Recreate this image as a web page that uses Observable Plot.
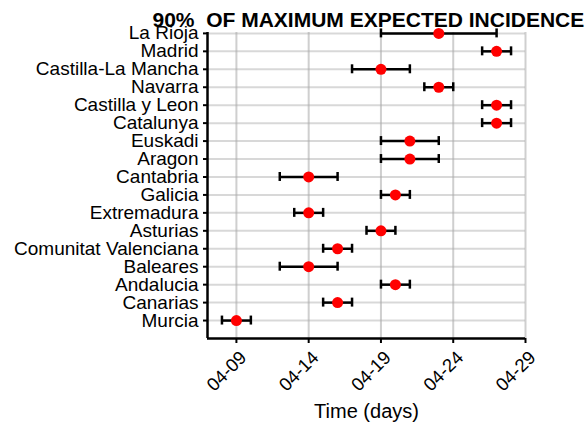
<!DOCTYPE html>
<html>
<head>
<meta charset="utf-8">
<script src="https://cdn.jsdelivr.net/npm/d3@7"></script>
<script src="https://cdn.jsdelivr.net/npm/@observablehq/plot@0.6"></script>
<style>
  html, body { margin: 0; padding: 0; background: #fff; }
  #chart svg { display: block; }
</style>
</head>
<body>
<div id="chart"></div>
<script>
// Regions, top to bottom
const regions = ["La Rioja", "Madrid", "Castilla-La Mancha", "Navarra", "Castilla y Leon", "Catalunya",
  "Euskadi", "Aragon", "Cantabria", "Galicia", "Extremadura", "Asturias",
  "Comunitat Valenciana", "Baleares", "Andalucia", "Canarias", "Murcia"];
// Day of April 2020
const lowDay    = [19, 26, 17, 22, 26, 26, 19, 19, 12, 19, 13, 18, 15, 12, 19, 15, 8];
const medianDay = [23, 27, 19, 23, 27, 27, 21, 21, 14, 20, 14, 19, 16, 14, 20, 16, 9];
const highDay   = [27, 28, 21, 24, 28, 28, 23, 23, 16, 21, 15, 20, 17, 16, 21, 17, 10];
const xTickDays = [9, 14, 19, 24, 29];
const titleText = "90%  OF MAXIMUM EXPECTED INCIDENCE";
const xLabel = "Time (days)";

const april = d => new Date(Date.UTC(2020, 3, d));
const n = regions.length;
const rows = regions.map((r, i) => ({
  region: r,
  pos: n - i,
  lo: april(lowDay[i]),
  med: april(medianDay[i]),
  hi: april(highDay[i])
}));
const yTicks = rows.map(d => d.pos);
const nameOf = new Map(rows.map(d => [d.pos, d.region]));
const xTicks = xTickDays.map(april);
const xDomain = [april(7), april(29)];

const font = "'Liberation Sans', Arial, sans-serif";

const chart = Plot.plot({
  width: 585,
  height: 426,
  marginLeft: 207,
  marginRight: 60,
  marginTop: 32,
  marginBottom: 88,
  style: { fontFamily: font, background: "#fff", color: "#000", overflow: "visible" },
  x: { type: "utc", domain: xDomain },
  y: { domain: [0, 17.05] },
  marks: [
    Plot.gridX(xTicks, { stroke: "#a8a8a8", strokeOpacity: 0.55, strokeWidth: 2 }),
    Plot.gridY(yTicks, { stroke: "#a8a8a8", strokeOpacity: 0.45, strokeWidth: 2 }),
    Plot.axisY({
      ticks: yTicks, tickFormat: d => nameOf.get(d), tickSize: 4, tickPadding: 5,
      fontSize: 19, label: null, strokeWidth: 2
    }),
    Plot.axisX({
      ticks: xTicks, tickSize: 5, strokeWidth: 2, tickFormat: () => "", label: null
    }),
    Plot.axisX({
      ticks: xTicks, tickFormat: d3.utcFormat("%m-%d"), tickRotate: -45, tickSize: 0,
      tickPadding: 9, fontSize: 18.5, label: null, dx: 7, dy: 7
    }),
    Plot.text([xLabel], {
      text: d => d, frameAnchor: "bottom", lineAnchor: "middle", dy: 73,
      fontSize: 20, fill: "#000"
    }),
    Plot.ruleX([xDomain[0]], { stroke: "#000", strokeWidth: 2.5 }),
    Plot.ruleY([0], { stroke: "#000", strokeWidth: 2.5 }),
    Plot.link(rows, { x1: "lo", x2: "hi", y1: "pos", y2: "pos", stroke: "#000", strokeWidth: 2.5 }),
    Plot.ruleX(rows, { x: "lo", y1: d => d.pos - 0.25, y2: d => d.pos + 0.25, stroke: "#000", strokeWidth: 2.5 }),
    Plot.ruleX(rows, { x: "hi", y1: d => d.pos - 0.25, y2: d => d.pos + 0.25, stroke: "#000", strokeWidth: 2.5 }),
    Plot.dot(rows, { x: "med", y: "pos", r: 5.5, fill: "#ff0000", stroke: "none" }),
    Plot.text([titleText], {
      text: d => d, frameAnchor: "top-left", textAnchor: "start", lineAnchor: "bottom",
      dx: -55, dy: -6, fontSize: 21, fontWeight: "bold", fill: "#000"
    })
  ]
});
document.getElementById("chart").appendChild(chart);
</script>
</body>
</html>
